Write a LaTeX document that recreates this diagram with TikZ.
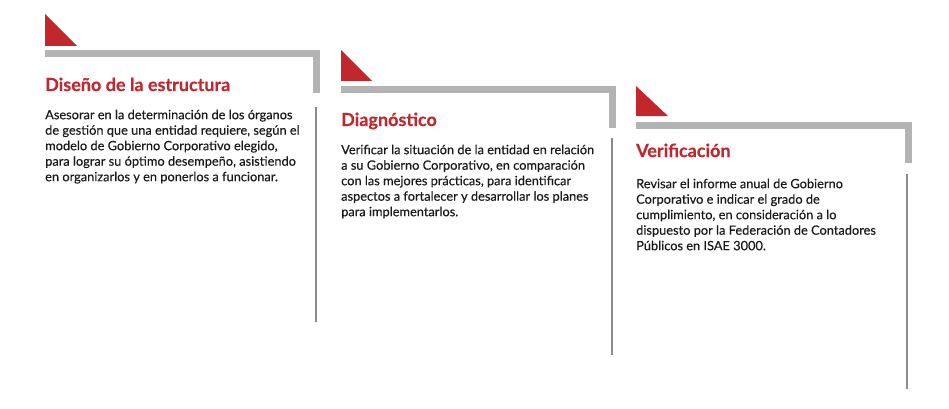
\documentclass[tikz,border=0pt]{standalone}
\usepackage{fontspec}
\setmainfont{Lato}
\newfontfamily\bodyfont[FakeBold=0.35]{Lato}
\newfontfamily\ttlfont[FakeBold=0.4]{Lato Bold}
\definecolor{redc}{HTML}{C1272D}
\definecolor{barg}{HTML}{B3B3B3}
\definecolor{lineg}{HTML}{8C8C8C}
\definecolor{txt}{HTML}{1A1A1A}
\begin{document}
\begin{tikzpicture}[x=1pt,y=-1pt,
  tri/.style={fill=redc},
  graybar/.style={draw=barg,line width=7pt,line cap=butt,line join=miter},
  thinl/.style={draw=lineg,line width=2pt},
  ttl/.style={anchor=base west,inner sep=0pt,text=redc,font=\ttlfont\fontsize{18}{20}\selectfont},
  body/.style={anchor=north west,inner sep=0pt,align=left,text=txt,font=\bodyfont\fontsize{12.8}{15.5}\selectfont}]
\useasboundingbox (0,0) rectangle (949,409);
% panel 1
\fill[tri] (45,14) -- (45,46) -- (77,46) -- cycle;
\draw[graybar] (45,53.5) -- (316,53.5) -- (316,93);
\draw[thinl] (316,107) -- (316,322);
\node[ttl] (t1) at (45,91) {Diseño de la estructura};
\node[body] (b1) at (45,105) {\rule{0pt}{14pt}Asesorar en la determinación de los órganos\\de gestión que una entidad requiere, según el\\modelo de Gobierno Corporativo elegido,\\para lograr su óptimo desempeño, asistiendo\\en organizarlos y en ponerlos a funcionar.};
% panel 2
\fill[tri] (341,50) -- (341,81) -- (372,81) -- cycle;
\draw[graybar] (341,89.5) -- (612,89.5) -- (612,128);
\draw[thinl] (612,138) -- (612,355);
\node[ttl] (t2) at (341,126) {Diagnóstico};
\node[body] (b2) at (341,140) {\rule{0pt}{14pt}Verificar la situación de la entidad en relación\\a su Gobierno Corporativo, en comparación\\con las mejores prácticas, para identificar\\aspectos a fortalecer y desarrollar los planes\\para implementarlos.};
% panel 3
\fill[tri] (636,86) -- (636,116) -- (668,116) -- cycle;
\draw[graybar] (636,125) -- (908,125) -- (908,163);
\draw[thinl] (907,174) -- (907,389);
\node[ttl] (t3) at (636,157) {Verificación};
\node[body] (b3) at (636,174) {\rule{0pt}{14pt}Revisar el informe anual de Gobierno\\Corporativo e indicar el grado de\\cumplimiento, en consideración a lo\\dispuesto por la Federación de Contadores\\Públicos en ISAE 3000.};
\end{tikzpicture}
\end{document}
